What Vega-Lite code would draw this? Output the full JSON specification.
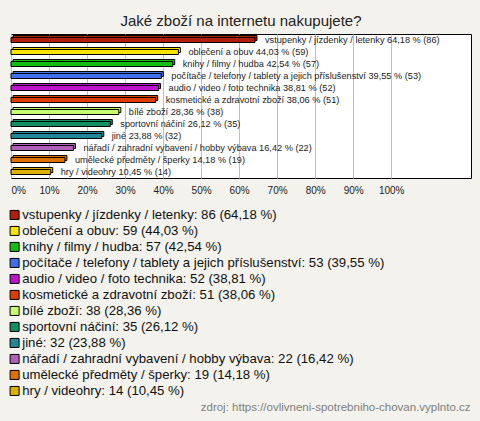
{
  "$schema": "https://vega.github.io/schema/vega-lite/v6.json",
  "width": 460,
  "height": 144,
  "autosize": {"type": "none"},
  "padding": {"left": 11, "top": 34, "right": 9, "bottom": 243},
  "background": "#f3f2ec",
  "title": {
    "text": "Jaké zboží na internetu nakupujete?",
    "anchor": "middle",
    "frame": "group",
    "font": "Liberation Sans",
    "fontSize": 15,
    "fontWeight": "normal",
    "color": "#222222",
    "offset": 5
  },
  "config": {
    "view": {"fill": "white", "stroke": "black", "strokeWidth": 1},
    "font": "Liberation Sans"
  },
  "data": {
    "values": [
      {"name": "vstupenky / jízdenky / letenky", "count": 86, "pct": 64.18, "label": "vstupenky / jízdenky / letenky 64,18 % (86)", "legend": "vstupenky / jízdenky / letenky: 86 (64,18 %)"},
      {"name": "oblečení a obuv", "count": 59, "pct": 44.03, "label": "oblečení a obuv 44,03 % (59)", "legend": "oblečení a obuv: 59 (44,03 %)"},
      {"name": "knihy / filmy / hudba", "count": 57, "pct": 42.54, "label": "knihy / filmy / hudba 42,54 % (57)", "legend": "knihy / filmy / hudba: 57 (42,54 %)"},
      {"name": "počítače / telefony / tablety a jejich příslušenství", "count": 53, "pct": 39.55, "label": "počítače / telefony / tablety a jejich příslušenství 39,55 % (53)", "legend": "počítače / telefony / tablety a jejich příslušenství: 53 (39,55 %)"},
      {"name": "audio / video / foto technika", "count": 52, "pct": 38.81, "label": "audio / video / foto technika 38,81 % (52)", "legend": "audio / video / foto technika: 52 (38,81 %)"},
      {"name": "kosmetické a zdravotní zboží", "count": 51, "pct": 38.06, "label": "kosmetické a zdravotní zboží 38,06 % (51)", "legend": "kosmetické a zdravotní zboží: 51 (38,06 %)"},
      {"name": "bílé zboží", "count": 38, "pct": 28.36, "label": "bílé zboží 28,36 % (38)", "legend": "bílé zboží: 38 (28,36 %)"},
      {"name": "sportovní náčiní", "count": 35, "pct": 26.12, "label": "sportovní náčiní 26,12 % (35)", "legend": "sportovní náčiní: 35 (26,12 %)"},
      {"name": "jiné", "count": 32, "pct": 23.88, "label": "jiné 23,88 % (32)", "legend": "jiné: 32 (23,88 %)"},
      {"name": "nářadí / zahradní vybavení / hobby výbava", "count": 22, "pct": 16.42, "label": "nářadí / zahradní vybavení / hobby výbava 16,42 % (22)", "legend": "nářadí / zahradní vybavení / hobby výbava: 22 (16,42 %)"},
      {"name": "umělecké předměty / šperky", "count": 19, "pct": 14.18, "label": "umělecké předměty / šperky 14,18 % (19)", "legend": "umělecké předměty / šperky: 19 (14,18 %)"},
      {"name": "hry / videohry", "count": 14, "pct": 10.45, "label": "hry / videohry 10,45 % (14)", "legend": "hry / videohry: 14 (10,45 %)"}
    ]
  },
  "encoding": {
    "y": {
      "field": "name",
      "type": "nominal",
      "sort": {"field": "count", "order": "descending"},
      "scale": {"paddingInner": 0, "paddingOuter": 0},
      "axis": null
    },
    "x": {
      "field": "pct",
      "type": "quantitative",
      "scale": {"domain": [0, 121], "nice": false},
      "axis": {
        "values": [0, 10, 20, 30, 40, 50, 60, 70, 80, 90, 100],
        "labelExpr": "datum.value + '%'",
        "labelFlush": true,
        "labelFontSize": 10,
        "labelColor": "#222222",
        "labelPadding": 7,
        "domain": false,
        "ticks": false,
        "grid": true,
        "gridColor": "#c0c0c0",
        "gridWidth": 1,
        "title": "zdroj: https://ovlivneni-spotrebniho-chovan.vyplnto.cz",
        "titleAnchor": "end",
        "titleAlign": "right",
        "titleBaseline": "middle",
        "titleX": 459,
        "titleY": 229,
        "titleFontSize": 11.5,
        "titleFontWeight": "normal",
        "titleColor": "#808080"
      }
    },
    "color": {
      "field": "legend",
      "type": "nominal",
      "sort": {"field": "count", "order": "descending"},
      "scale": {"range": ["#b41c0c", "#f8e400", "#10c010", "#4070f0", "#c010d0", "#e03c00", "#c8ff70", "#109060", "#208898", "#b060b8", "#e07000", "#e0b000"]},
      "legend": {
        "title": null,
        "orient": "none",
        "legendX": -3,
        "legendY": 173,
        "padding": 0,
        "symbolType": "square",
        "symbolSize": 81,
        "symbolStrokeColor": "black",
        "symbolStrokeWidth": 1,
        "symbolOpacity": 1,
        "labelFontSize": 13.2,
        "labelColor": "#111111",
        "labelOffset": 1,
        "clipHeight": 15.9,
        "rowPadding": 0,
        "labelLimit": 470,
        "columns": 1
      }
    }
  },
  "layer": [
    {
      "mark": {"type": "bar", "size": 5, "xOffset": 2, "yOffset": -2, "stroke": "black", "strokeWidth": 1}
    },
    {
      "mark": {"type": "bar", "size": 5, "stroke": "black", "strokeWidth": 1}
    },
    {
      "mark": {"type": "text", "align": "left", "baseline": "middle", "dx": 10, "fontSize": 9.2},
      "encoding": {"color": {"value": "#222222"}, "text": {"field": "label"}}
    }
  ]
}
